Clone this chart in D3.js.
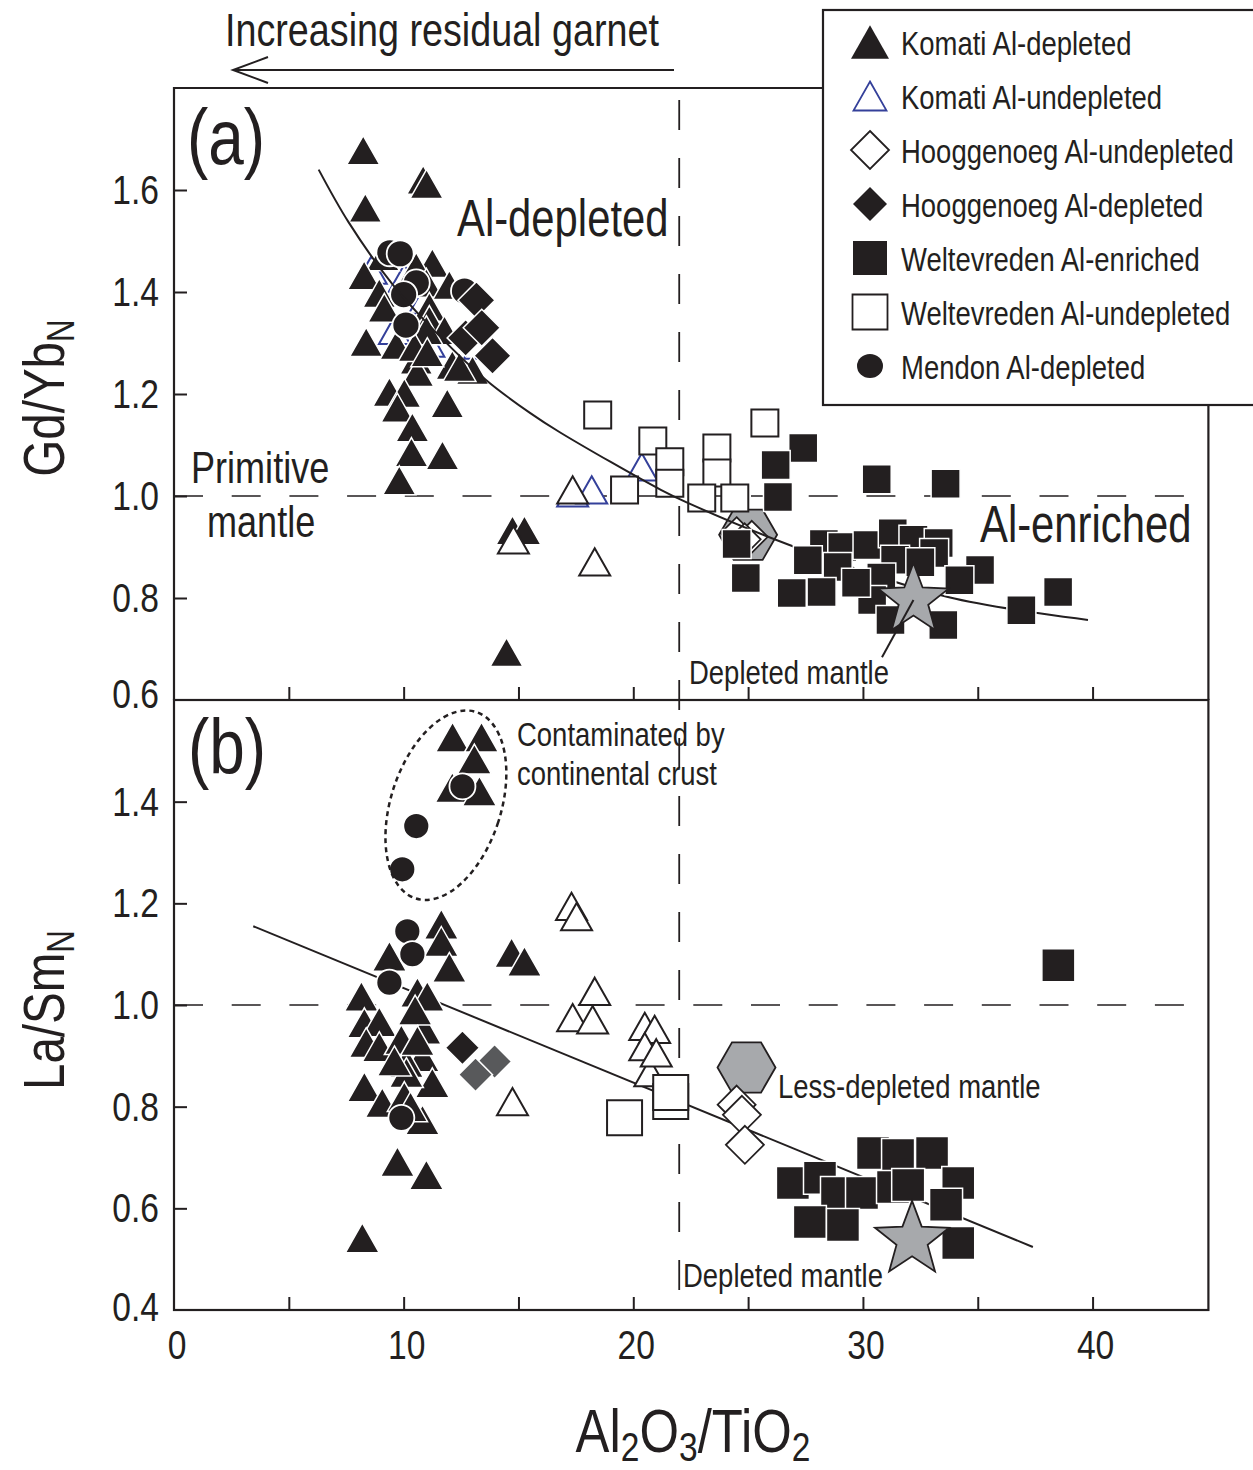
<!DOCTYPE html>
<html><head><meta charset="utf-8">
<script src="https://cdn.jsdelivr.net/npm/d3@7/dist/d3.min.js"></script>
<style>
body{margin:0;background:#fff}
svg{display:block}
text{font-family:"Liberation Sans",Arial,Helvetica,sans-serif;fill:#231f20}
</style>
</head><body>
<svg id="chart" width="1253" height="1470"></svg>
<script>
// ---------------- DATA ----------------
const xTicks = [0, 10, 20, 30, 40];
const yTicksA = [0.6, 0.8, 1.0, 1.2, 1.4, 1.6];
const yTicksB = [0.4, 0.6, 0.8, 1.0, 1.2, 1.4];
const legendLabels = ["Komati Al-depleted","Komati Al-undepleted","Hooggenoeg Al-undepleted","Hooggenoeg Al-depleted","Weltevreden Al-enriched","Weltevreden Al-undepleted","Mendon Al-depleted"];

// Panel (a): Gd/Yb_N vs Al2O3/TiO2
const komatiDepA = [[8.24,1.678],[8.33,1.565],[10.85,1.62],[11.0,1.612],[9.1,1.47],
 [8.28,1.433],[8.94,1.398],[9.16,1.369],[8.37,1.302],[9.68,1.296],[10.55,1.267],[10.6,1.243],
 [9.38,1.204],[10.03,1.202],[9.73,1.173],[10.38,1.135],[10.34,1.086],[11.69,1.080],[9.81,1.031],
 [11.9,1.182],[11.25,1.457],[10.55,1.449],[10.99,1.418],[11.99,1.414],[11.12,1.371],[11.12,1.345],
 [11.78,1.325],[10.99,1.325],[12.12,1.257],[13.0,1.247],[12.43,1.253],[10.47,1.292],[11.03,1.282],
 [14.48,0.694],[14.74,0.933],[15.26,0.933]];
const komatiUndepA_blue = [[8.59,1.443],[10.03,1.427],[10.9,1.384],[9.6,1.325],[11.1,1.30],[13.3,1.296],
 [17.36,1.006],[18.19,1.012],[20.37,1.057]];
const komatiUndepA_black = [[17.36,1.012],[14.78,0.914],[18.32,0.871]];
const hoogDepA = [[13.17,1.384],[12.7,1.31],[13.87,1.275],[13.4,1.33]];
const hoogUndepA = [[24.5,0.927],[25.16,0.92],[24.85,0.915]];
const mendonA = [[9.4,1.477],[9.85,1.475],[10.55,1.418],[10.0,1.395],[12.65,1.402],[10.1,1.335]];
const weltUndepA = [[18.45,1.159],[20.85,1.108],[21.59,1.067],[21.59,1.025],[23.64,1.094],[23.64,1.045],
 [22.98,0.996],[24.42,0.996],[19.62,1.012],[25.73,1.143]];
const weltEnrA = [[27.4,1.094],[26.2,1.061],[26.3,0.998],[24.5,0.906],[24.9,0.839],[30.6,1.033],[33.6,1.024],
 [28.3,0.906],[29.1,0.900],[30.2,0.904],[31.3,0.927],[32.2,0.914],[33.3,0.908],[31.4,0.875],[33.1,0.888],
 [28.9,0.861],[35.1,0.855],[34.2,0.835],[27.6,0.874],[26.9,0.810],[28.2,0.812],[30.3,0.831],[30.8,0.840],
 [30.4,0.796],[31.2,0.757],[33.5,0.747],[36.9,0.776],[38.5,0.812],[29.7,0.830],[32.5,0.870]];
const lessDepMantleA = [[25.0,0.924]];
const depMantleA = [[32.2,0.796]];
const depMantleLabelA = [30.83,0.684];
const trendA = [[6.3,1.64],[7.6,1.537],[9.5,1.416],[11.6,1.312],[13.6,1.227],[15.5,1.163],[16.8,1.125],
 [21.2,1.012],[22.3,0.988],[26.8,0.904],[33.7,0.802],[39.8,0.757]];

// Panel (b): La/Sm_N vs Al2O3/TiO2
const komatiDepB = [[12.13,1.527],[13.39,1.527],[13.08,1.484],[12.12,1.428],[13.3,1.421],[11.64,1.159],
 [11.64,1.125],[11.99,1.074],[14.7,1.103],[15.26,1.086],[8.16,1.017],[9.38,1.096],[10.6,1.025],[11.03,1.017],
 [8.29,0.965],[8.94,0.967],[8.37,0.926],[8.94,0.918],[10.9,0.952],[9.9,0.932],[10.82,0.898],[10.12,0.887],
 [11.25,0.847],[10.12,0.867],[8.29,0.839],[9.07,0.808],[10.03,0.82],[10.82,0.774],[9.73,0.692],[10.99,0.666],
 [8.2,0.542],[10.5,0.99],[10.6,0.93],[10.3,0.80],[9.6,0.89]];
const komatiUndepB = [[17.31,1.194],[17.53,1.174],[18.32,1.027],[17.36,0.975],[18.23,0.971],[14.74,0.81],
 [20.5,0.958],[20.93,0.952],[20.5,0.918],[20.72,0.867],[21.0,0.906]];
const mendonB = [[12.56,1.43],[10.55,1.352],[9.94,1.267],[10.16,1.145],[10.38,1.100],[9.38,1.044],[9.9,0.778]];
const hoogDepB_black = [[12.56,0.916]];
const hoogDepB_gray = [[13.96,0.889],[13.13,0.863]];
const hoogUndepB = [[24.5,0.804],[24.73,0.784],[24.86,0.725]];
const weltUndepB = [[19.62,0.778],[21.63,0.81],[21.63,0.828]];
const weltEnrB = [[26.95,0.650],[28.13,0.660],[28.87,0.630],[29.96,0.630],[30.44,0.709],[31.53,0.705],
 [33.01,0.709],[31.31,0.642],[34.15,0.650],[33.62,0.607],[27.69,0.573],[29.13,0.567],[34.15,0.532],
 [31.97,0.646],[38.51,1.078]];
const lessDepMantleB = [[24.93,0.877]];
const depMantleB = [[32.14,0.538]];
const trendB = [[3.45,1.155],[37.4,0.524]];
const contamCenterB = [11.84,1.393];

// ---------------- SETUP ----------------
const INK = "#231f20", GRAY = "#a7a9ac", DGRAY = "#58595b", BLUE = "#34409a";
const SX = 0.82; // condensed text
const svg = d3.select("#chart");
const x = d3.scaleLinear().domain([0,45]).range([174,1207.4]);
const yA = d3.scaleLinear().domain([0.6,1.8]).range([700,88]);
const yB = d3.scaleLinear().domain([0.4,1.6]).range([1310,700]);

function txt(g, px, py, str, size, anchor) {
  return g.append("text")
    .attr("transform", `translate(${px},${py}) scale(${SX},1)`)
    .attr("font-size", size).attr("text-anchor", anchor || "start").text(str);
}

// symbol helpers
function triPath(w){ const h=w*0.88; return `M0,${-h/2}L${w/2},${h/2}L${-w/2},${h/2}Z`; }
function sqPath(s){ return `M${-s/2},${-s/2}h${s}v${s}h${-s}Z`; }
function diaPath(d){ return `M0,${-d}L${d},0L0,${d}L${-d},0Z`; }
function hexPath(r){ return d3.range(6).map(i=>{const a=i*Math.PI/3;return (i?"L":"M")+(r*Math.cos(a)).toFixed(2)+","+(r*Math.sin(a)).toFixed(2);}).join("")+"Z"; }
function starPath(R){ const r=R*0.42; return d3.range(10).map(i=>{const a=-Math.PI/2+i*Math.PI/5, rr=i%2?r:R; return (i?"L":"M")+(rr*Math.cos(a)).toFixed(2)+","+(rr*Math.sin(a)).toFixed(2);}).join("")+"Z"; }

function marks(g, data, ys, path, fill, stroke, sw) {
  g.append("g").selectAll("path").data(data).join("path")
    .attr("transform", d=>`translate(${x(d[0])},${ys(d[1])})`)
    .attr("d", path).attr("fill", fill).attr("stroke", stroke).attr("stroke-width", sw)
    .attr("stroke-linejoin","miter");
}
function circles(g, data, ys, r) {
  g.append("g").selectAll("circle").data(data).join("circle")
    .attr("cx", d=>x(d[0])).attr("cy", d=>ys(d[1])).attr("r", r)
    .attr("fill", INK).attr("stroke", "#fff").attr("stroke-width", 1.8);
}

// ---------------- REFERENCE LINES ----------------
const ref = svg.append("g");
ref.append("line").attr("x1", x(0)).attr("x2", x(45)).attr("y1", yA(1.0)).attr("y2", yA(1.0))
  .attr("stroke", INK).attr("stroke-width", 1.6).attr("stroke-dasharray", "29,28.7");
ref.append("line").attr("x1", x(0)).attr("x2", x(45)).attr("y1", yB(1.0)).attr("y2", yB(1.0))
  .attr("stroke", INK).attr("stroke-width", 1.6).attr("stroke-dasharray", "29,28.7");
ref.append("line").attr("x1", x(22)).attr("x2", x(22)).attr("y1", yA(1.8)+12).attr("y2", yB(0.4))
  .attr("stroke", INK).attr("stroke-width", 1.8).attr("stroke-dasharray", "30,28");

// ---------------- PANEL A ----------------
const gA = svg.append("g");
marks(gA, komatiUndepA_blue, yA, triPath(31), "#fff", BLUE, 2);
marks(gA, komatiDepA, yA, triPath(33), INK, "#fff", 1.5);
circles(gA, mendonA, yA, 13.5);
marks(gA, hoogDepA, yA, diaPath(18.5), INK, "#fff", 1.5);
marks(gA, komatiUndepA_black, yA, triPath(31), "#fff", INK, 2);
const line = d3.line().x(d=>x(d[0])).y(d=>yA(d[1])).curve(d3.curveCatmullRom);
marks(gA, lessDepMantleA, yA, hexPath(29), GRAY, INK, 1.8);
marks(gA, hoogUndepA, yA, diaPath(16), "#fff", INK, 1.8);
marks(gA, weltUndepA, yA, sqPath(27), "#fff", INK, 2);
gA.append("path").datum(trendA).attr("d", line).attr("fill","none").attr("stroke", INK).attr("stroke-width", 2);
marks(gA, weltEnrA, yA, sqPath(29), INK, "#fff", 1.5);
marks(gA, depMantleA, yA, starPath(37), GRAY, INK, 1.8);
gA.append("line").attr("x1", x(depMantleA[0][0])).attr("y1", yA(depMantleA[0][1]))
  .attr("x2", x(depMantleLabelA[0])).attr("y2", yA(depMantleLabelA[1]))
  .attr("stroke", INK).attr("stroke-width", 2);

// ---------------- PANEL B ----------------
const gB = svg.append("g");
gB.append("path").datum(trendB).attr("d", d3.line().x(d=>x(d[0])).y(d=>yB(d[1])))
  .attr("fill","none").attr("stroke", INK).attr("stroke-width", 2);
marks(gB, komatiDepB, yB, triPath(34), INK, "#fff", 1.5);
marks(gB, komatiUndepB, yB, triPath(31), "#fff", INK, 2);
circles(gB, mendonB, yB, 13);
marks(gB, hoogDepB_black, yB, diaPath(17), INK, "#fff", 1.5);
marks(gB, hoogDepB_gray, yB, diaPath(17), DGRAY, "#fff", 1.5);
marks(gB, weltUndepB, yB, sqPath(35), "#fff", INK, 2);
marks(gB, lessDepMantleB, yB, hexPath(29), GRAY, INK, 1.8);
marks(gB, hoogUndepB, yB, diaPath(19), "#fff", INK, 1.8);
marks(gB, weltEnrB, yB, sqPath(33), INK, "#fff", 1.5);
marks(gB, depMantleB, yB, starPath(39), GRAY, INK, 1.8);
gB.append("ellipse")
  .attr("transform", `translate(${x(contamCenterB[0])},${yB(contamCenterB[1])}) rotate(18)`)
  .attr("rx", 55).attr("ry", 98).attr("fill","none").attr("stroke", INK)
  .attr("stroke-width", 2.5).attr("stroke-dasharray","5,4");

// ---------------- AXES ----------------
const ax = svg.append("g");
function styleAxis(g){ g.select(".domain").remove(); g.selectAll("line").attr("stroke", INK).attr("stroke-width", 2); g.selectAll("text").remove(); }
ax.append("g").attr("transform", `translate(${x(0)},0)`)
  .call(d3.axisLeft(yA).tickValues([0.8,1.0,1.2,1.4,1.6]).tickSizeInner(-13).tickSizeOuter(0)).call(styleAxis);
ax.append("g").attr("transform", `translate(${x(0)},0)`)
  .call(d3.axisLeft(yB).tickValues([0.6,0.8,1.0,1.2,1.4]).tickSizeInner(-13).tickSizeOuter(0)).call(styleAxis);
const xt = d3.range(5, 45, 5);
ax.append("g").attr("transform", `translate(0,${yA(0.6)})`)
  .call(d3.axisBottom(x).tickValues(xt).tickSizeInner(-13).tickSizeOuter(0)).call(styleAxis);
ax.append("g").attr("transform", `translate(0,${yB(0.4)})`)
  .call(d3.axisBottom(x).tickValues(xt).tickSizeInner(-13).tickSizeOuter(0)).call(styleAxis);

yTicksA.forEach(v => txt(ax, 159, yA(v) + 14 - (v===0.6?6:0), v.toFixed(1), 41, "end"));
yTicksB.forEach(v => txt(ax, 159, yB(v) + 14 - (v===0.4?3:0), v.toFixed(1), 41, "end"));
xTicks.forEach(v => txt(ax, x(v) + 3, 1359, String(v), 41, "middle"));

// borders
const bd = svg.append("g").attr("fill","none").attr("stroke", INK).attr("stroke-width", 2.2);
bd.append("path").attr("d", `M${x(0)},${yA(0.6)}V${yA(1.8)}H823`);
bd.append("path").attr("d", `M${x(45)+1},405V${yA(0.6)}`);
bd.append("rect").attr("x", x(0)).attr("y", yB(1.6)).attr("width", x(45)+1-x(0)).attr("height", yB(0.4)-yB(1.6));

// ---------------- TEXT ----------------
const tg = svg.append("g");
txt(tg, 187, 164, "(a)", 78);
txt(tg, 188, 774, "(b)", 78);
txt(tg, 457, 236, "Al-depleted", 51);
txt(tg, 980, 542, "Al-enriched", 51);
txt(tg, 191, 483, "Primitive", 44);
txt(tg, 207, 537, "mantle", 44);
txt(tg, 689, 684, "Depleted mantle", 33.5);
txt(tg, 517, 746, "Contaminated by", 33.5);
txt(tg, 517, 785, "continental crust", 33.5);
txt(tg, 778, 1098, "Less-depleted mantle", 33.5);
txt(tg, 683, 1287, "Depleted mantle", 33.5);
txt(tg, 225, 46, "Increasing residual garnet", 46);
// arrow
tg.append("line").attr("x1", 233).attr("x2", 674).attr("y1", 70).attr("y2", 70).attr("stroke", INK).attr("stroke-width", 2);
tg.append("path").attr("d", "M268,57L233,70L268,83").attr("fill","none").attr("stroke", INK).attr("stroke-width", 2);

// axis titles
function subTitle(g, tf, parts, size, anchor, shift){
  const t = g.append("text").attr("transform", tf).attr("font-size", size).attr("text-anchor", anchor);
  parts.forEach(p => {
    if (p.sub) t.append("tspan").attr("font-size", size*0.66).attr("dy", size*shift).text(p.s);
    else t.append("tspan").attr("dy", p.back ? -size*shift : 0).text(p.s);
  });
  return t;
}
subTitle(tg, `translate(64,398) rotate(-90) scale(${SX},1)`, [{s:"Gd/Yb"},{s:"N",sub:true}], 58, "middle", 0.17);
subTitle(tg, `translate(64,1010) rotate(-90) scale(${SX},1)`, [{s:"La/Sm"},{s:"N",sub:true}], 58, "middle", 0.17);
subTitle(tg, `translate(693,1452) scale(${SX},1)`,
  [{s:"Al"},{s:"2",sub:true},{s:"O",back:true},{s:"3",sub:true},{s:"/TiO",back:true},{s:"2",sub:true}], 62, "middle", 0.14);

// ---------------- LEGEND ----------------
const lg = svg.append("g");
lg.append("rect").attr("x", 823).attr("y", 10).attr("width", 450).attr("height", 395)
  .attr("fill", "#fff").attr("stroke", INK).attr("stroke-width", 2.2);
const rowY = i => 42 + i*54;
const legSyms = [
  {d: triPath(38), fill: INK, stroke: "none", sw: 0},
  {d: triPath(33), fill: "#fff", stroke: BLUE, sw: 1.8},
  {d: diaPath(19), fill: "#fff", stroke: INK, sw: 1.8},
  {d: diaPath(17), fill: INK, stroke: "none", sw: 0},
  {d: sqPath(34), fill: INK, stroke: "none", sw: 0},
  {d: sqPath(35), fill: "#fff", stroke: INK, sw: 1.8},
  {d: null}
];
legendLabels.forEach((lab, i) => {
  const s = legSyms[i];
  if (s.d) lg.append("path").attr("transform", `translate(870,${rowY(i)})`).attr("d", s.d)
    .attr("fill", s.fill).attr("stroke", s.stroke).attr("stroke-width", s.sw);
  else lg.append("ellipse").attr("cx", 870).attr("cy", rowY(i)).attr("rx", 13).attr("ry", 12).attr("fill", INK);
  txt(lg, 901, rowY(i) + 13, lab, 33.5);
});
</script>
</body></html>
